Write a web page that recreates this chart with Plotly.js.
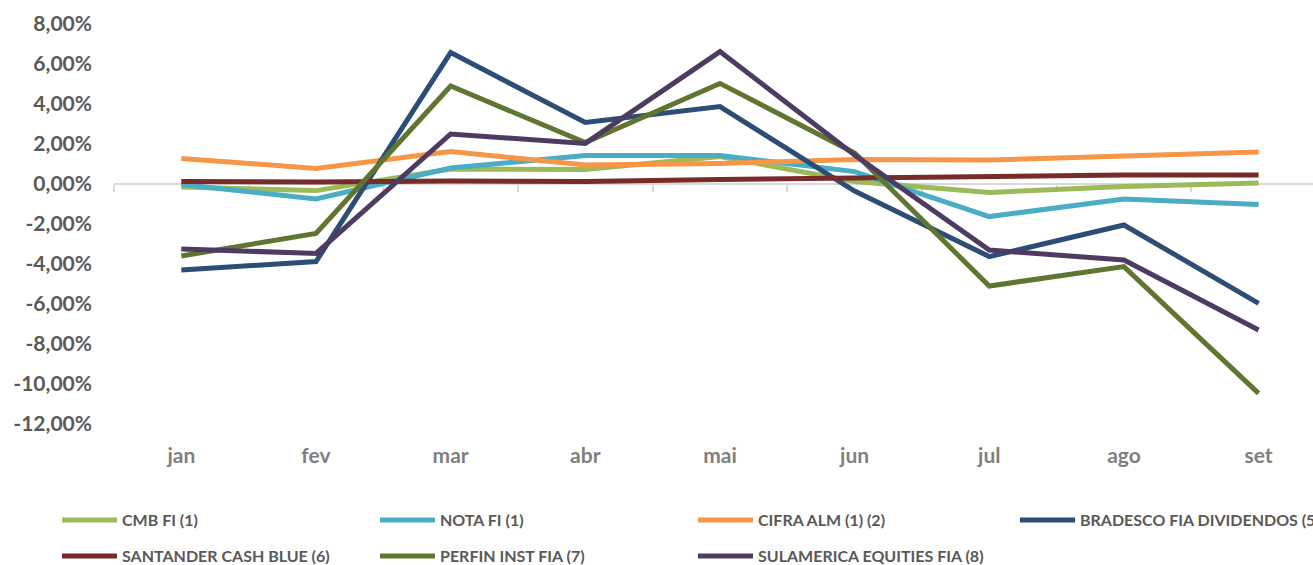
<!DOCTYPE html>
<html>
<head>
<meta charset="utf-8">
<script src="https://cdn.plot.ly/plotly-3.0.1.min.js"></script>
<style>html,body{margin:0;padding:0;background:#fff;}#chart{width:1313px;height:565px;}</style>
</head>
<body>
<div id="chart"></div>
<script>
const months = ['jan','fev','mar','abr','mai','jun','jul','ago','set'];
const seriesNames = ['CMB FI (1)','NOTA FI (1)','CIFRA ALM (1) (2)','BRADESCO FIA DIVIDENDOS (5)','SANTANDER CASH BLUE (6)','PERFIN INST FIA (7)','SULAMERICA EQUITIES FIA (8)'];
const cmb        = [-0.15, -0.33, 0.75, 0.72, 1.37, 0.12, -0.42, -0.13, 0.05];
const nota       = [-0.02, -0.75, 0.80, 1.42, 1.42, 0.62, -1.63, -0.75, -1.02];
const cifra      = [1.28, 0.78, 1.62, 0.95, 1.03, 1.23, 1.20, 1.37, 1.60];
const bradesco   = [-4.30, -3.88, 6.57, 3.08, 3.87, -0.35, -3.63, -2.05, -5.97];
const santander  = [0.12, 0.10, 0.15, 0.12, 0.23, 0.30, 0.37, 0.45, 0.45];
const perfin     = [-3.60, -2.47, 4.90, 2.07, 5.03, 1.55, -5.10, -4.13, -10.47];
const sulamerica = [-3.25, -3.47, 2.50, 2.03, 6.62, 1.45, -3.30, -3.80, -7.30];
const yTickVals  = [8, 6, 4, 2, 0, -2, -4, -6, -8, -10, -12];
const yTickText  = ['8,00%','6,00%','4,00%','2,00%','0,00%','-2,00%','-4,00%','-6,00%','-8,00%','-10,00%','-12,00%'];

const values = [cmb, nota, cifra, bradesco, santander, perfin, sulamerica];
const colors = ['#9BBB59','#4BACC6','#F79646','#2C4D75','#772C2A','#5F7530','#4D3B62'];
const legendOf = ['legend','legend','legend','legend3','legend2','legend2','legend2'];

const traces = values.map((v, i) => ({
  type: 'scatter', mode: 'lines', x: months, y: v, name: seriesNames[i],
  line: {color: colors[i], width: 5}, legend: legendOf[i], hoverinfo: 'x+y+name'
}));

const yRange = [-13, 9];
const xRange = [-0.5, 8.404];
const zeroPos = (0 - yRange[0]) / (yRange[1] - yRange[0]);
const boundaryTicks = months.map((m, i) => i - 0.5).concat([months.length - 0.5]);

const legendFont = {family: 'Lato, "Open Sans", sans-serif', size: 16, color: '#595959', weight: 700};
const legendBase = {orientation: 'h', xref: 'container', yref: 'container', xanchor: 'left', yanchor: 'middle',
  font: legendFont, entrywidth: 248, entrywidthmode: 'pixels', itemwidth: 55, bgcolor: 'rgba(0,0,0,0)', itemclick: false, itemdoubleclick: false};

const layout = {
  width: 1313, height: 565,
  margin: {l: 114, r: 0, t: 4, b: 121},
  paper_bgcolor: '#ffffff', plot_bgcolor: '#ffffff',
  showlegend: true,
  xaxis: {type: 'category', range: xRange, showgrid: false, zeroline: false, showline: false, ticks: '',
    ticklabelstandoff: -3,
    tickfont: {family: 'Lato, "Open Sans", sans-serif', size: 21, color: '#7F7F7F', weight: 700}, fixedrange: true},
  xaxis2: {type: 'linear', overlaying: 'x', anchor: 'free', position: zeroPos, range: xRange,
    showgrid: false, zeroline: false, showline: true, linecolor: '#D9D9D9', linewidth: 1.5,
    ticks: 'outside', ticklen: 7, tickwidth: 1.5, tickcolor: '#D9D9D9', tickmode: 'array', tickvals: boundaryTicks,
    showticklabels: false, layer: 'below traces', fixedrange: true},
  yaxis: {range: yRange, showgrid: false, zeroline: false, showline: false, ticks: '',
    tickmode: 'array', tickvals: yTickVals, ticktext: yTickText, ticklabelstandoff: 21,
    tickfont: {family: 'Lato, "Open Sans", sans-serif', size: 21, color: '#595959', weight: 700}, fixedrange: true},
  legend: Object.assign({}, legendBase, {x: 57/1313, y: 1 - 520/565}),
  legend2: Object.assign({}, legendBase, {x: 57/1313, y: 1 - 556/565}),
  legend3: Object.assign({}, legendBase, {x: 1015/1313, y: 1 - 520/565}),
  hovermode: 'closest'
};

traces.push({type: 'scatter', mode: 'lines', x: [], y: [], xaxis: 'x2', showlegend: false, hoverinfo: 'skip'});

Plotly.newPlot('chart', traces, layout, {displayModeBar: false, staticPlot: false});
</script>
</body>
</html>
